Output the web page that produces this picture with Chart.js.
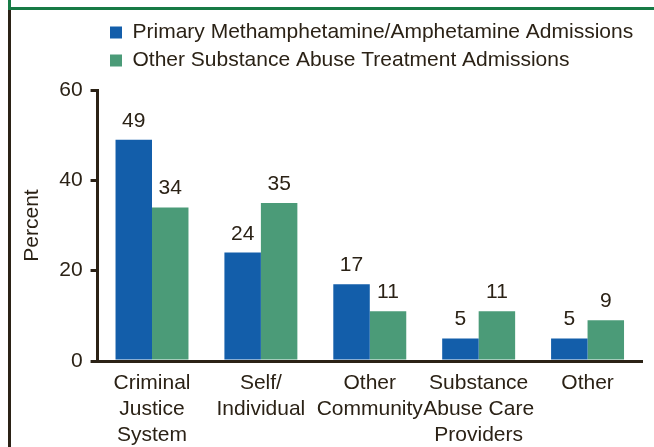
<!DOCTYPE html>
<html>
<head>
<meta charset="utf-8">
<script src="https://cdn.jsdelivr.net/npm/chart.js@4/dist/chart.umd.min.js"></script>
<style>
  html, body { margin: 0; padding: 0; background: #fff; }
  .wrap { position: relative; width: 654px; height: 447px; overflow: hidden; }
  canvas { position: absolute; left: 0; top: 0; }
  .frame-top { position: absolute; left: 8px; top: 7px; right: 0; height: 3px; background: #177a45; }
  .frame-stub { position: absolute; left: 8px; top: 0; width: 3px; height: 8px; background: #177a45; }
  .frame-left { position: absolute; left: 8px; top: 10px; bottom: 0; width: 3px; background: #2b2216; }
</style>
</head>
<body>
<div class="wrap">
  <canvas id="chart" width="654" height="447"></canvas>
  <div class="frame-stub"></div>
  <div class="frame-top"></div>
  <div class="frame-left"></div>
</div>
<script>
const categories = [
  ['Criminal', 'Justice', 'System'],
  ['Self/', 'Individual'],
  ['Other', 'Community'],
  ['Substance', 'Abuse Care', 'Providers'],
  ['Other']
];
const methValues = [49, 24, 17, 5, 5];
const otherValues = [34, 35, 11, 11, 9];
const seriesNames = [
  'Primary Methamphetamine/Amphetamine Admissions',
  'Other Substance Abuse Treatment Admissions'
];
const yTicks = [0, 20, 40, 60];

const textColor = '#2b2216';
const fontFamily = '"Liberation Sans", Arial, Helvetica, sans-serif';
const fontSize = 21;

// bar value labels drawn above each bar
const valueLabels = {
  id: 'valueLabels',
  afterDatasetsDraw(chart) {
    const ctx = chart.ctx;
    ctx.save();
    ctx.font = fontSize + 'px ' + fontFamily;
    ctx.fillStyle = textColor;
    ctx.textAlign = 'center';
    ctx.textBaseline = 'alphabetic';
    chart.data.datasets.forEach((ds, i) => {
      chart.getDatasetMeta(i).data.forEach((bar, j) => {
        ctx.fillText(String(ds.data[j]), bar.x, bar.y - 13);
      });
    });
    ctx.restore();
  }
};

// legend rows start near the y axis, and sit a bit higher than the plot
const legendShift = {
  id: 'legendShift',
  afterLayout(chart) {
    const lg = chart.legend;
    if (lg) {
      lg.left = 103;
      lg.right = 654;
      lg.top -= 9;
      lg.bottom -= 9;
    }
  }
};

new Chart(document.getElementById('chart'), {
  type: 'bar',
  data: {
    labels: categories,
    datasets: [
      { label: seriesNames[0], data: methValues, backgroundColor: '#135eaa', borderWidth: 0 },
      { label: seriesNames[1], data: otherValues, backgroundColor: '#4b9b78', borderWidth: 0 }
    ]
  },
  options: {
    responsive: false,
    animation: false,
    devicePixelRatio: 1,
    layout: { padding: { left: 12, right: 12, top: 24, bottom: 0 } },
    datasets: {
      bar: { barPercentage: 1, categoryPercentage: 0.67 }
    },
    scales: {
      y: {
        min: 0,
        max: 60,
        afterBuildTicks(axis) {
          axis.ticks = yTicks.map(v => ({ value: v }));
        },
        ticks: {
          color: textColor,
          font: { family: fontFamily, size: fontSize },
          padding: 8
        },
        grid: {
          drawOnChartArea: false,
          drawTicks: true,
          tickLength: 7,
          lineWidth: 3,
          color: textColor
        },
        border: { display: true, color: textColor, width: 3 },
        title: {
          display: true,
          text: 'Percent',
          color: textColor,
          font: { family: fontFamily, size: fontSize },
          padding: { top: 8, bottom: 6 }
        }
      },
      x: {
        afterFit(scale) {
          scale.height = 86;
        },
        ticks: {
          color: textColor,
          font: { family: fontFamily, size: fontSize, lineHeight: 1.25 },
          padding: 9,
          maxRotation: 0,
          autoSkip: false
        },
        grid: { display: false, drawTicks: false },
        border: { display: true, color: textColor, width: 3 }
      }
    },
    plugins: {
      legend: {
        display: true,
        position: 'top',
        align: 'start',
        labels: {
          boxWidth: 12,
          boxHeight: 12,
          padding: 7,
          color: textColor,
          font: { family: fontFamily, size: fontSize }
        }
      },
      tooltip: { enabled: false }
    }
  },
  plugins: [valueLabels, legendShift]
});
</script>
</body>
</html>
